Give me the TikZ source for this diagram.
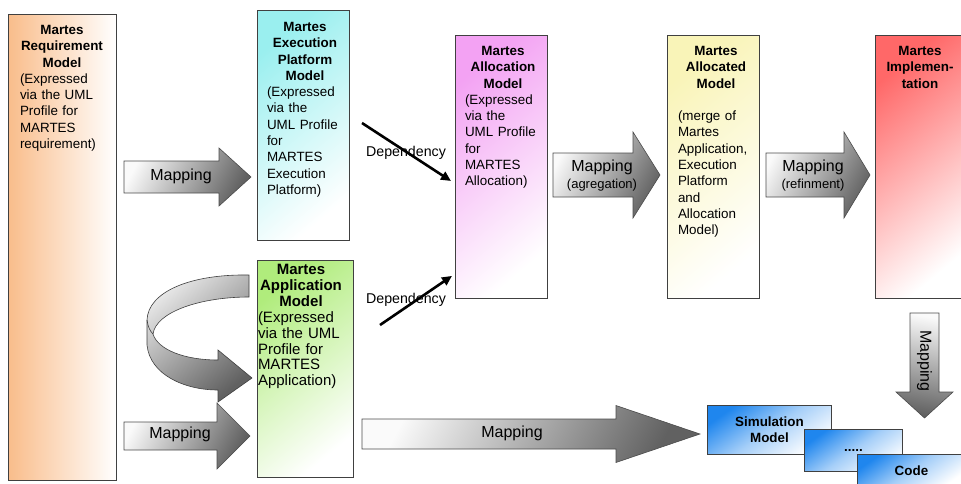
\documentclass[tikz,border=0pt]{standalone}
\usepackage{fontspec}
\setmainfont{Liberation Sans}
\usetikzlibrary{arrows.meta}
\definecolor{reqC}{HTML}{F9BD8B}
\definecolor{exeC}{HTML}{9AEFEF}
\definecolor{allocC}{HTML}{F3A2F3}
\definecolor{alldC}{HTML}{F9F4B8}
\definecolor{implC}{HTML}{FF6868}
\definecolor{appC}{HTML}{B0EC7C}
\definecolor{bluC}{HTML}{1F86EE}
\newcommand\ttl[1]{{\centering\bfseries #1\par}}
\newcommand\bdy[1]{{\raggedright #1\par}}
\newcommand\harr[6]{\path[blockarrow] (#1,#4-#5) -- (#2,#4-#5) -- (#2,#4-#6) -- (#3,#4) -- (#2,#4+#6) -- (#2,#4+#5) -- (#1,#4+#5) -- cycle;}
\begin{document}
\begin{tikzpicture}[x=1pt, y=-1pt,
  mbox/.style={draw=black!75, line width=0.9pt, inner sep=0pt, anchor=north west},
  diag/.style={top color=#1, bottom color=white, shading angle=40},
  btxt/.style={inner sep=0pt, anchor=north, font=\fontsize{13.4}{16.3}\selectfont},
  blockarrow/.style={draw=black!70, line width=0.6pt, top color=gray!4, bottom color=black!62, shading angle=62},
  curvearrow/.style={draw=black!75, line width=0.6pt, top color=gray!18, bottom color=black!62, shading angle=40},
  dep/.style={line width=2.6pt, -{Triangle[length=10pt,width=9pt]}},
  lbl/.style={inner sep=0pt, font=\fontsize{16}{16}\selectfont},
  sublbl/.style={inner sep=0pt, font=\fontsize{13}{13}\selectfont},
  deplbl/.style={inner sep=0pt, font=\fontsize{14.2}{14.2}\selectfont},
  blu/.style={draw=black!75, line width=0.9pt, anchor=north west, inner sep=0pt,
    top color=bluC, bottom color=white, middle color=bluC!40!white, shading angle=35,
    font=\bfseries\fontsize{13.4}{16.3}\selectfont, align=center}]
\useasboundingbox (0,0) rectangle (961,483);

% main model boxes
\node[mbox, minimum width=108pt, minimum height=466pt, left color=reqC, right color=white] (req) at (8,14) {};
\node[mbox, minimum width=92pt, minimum height=230pt, diag=exeC] (exe) at (257,10) {};
\node[mbox, minimum width=92pt, minimum height=263pt, diag=allocC] (alloc) at (455,35) {};
\node[mbox, minimum width=92pt, minimum height=263pt, diag=alldC] (alld) at (667,35) {};
\node[mbox, minimum width=92pt, minimum height=263pt, diag=implC] (impl) at (875,35) {};
\node[mbox, minimum width=96pt, minimum height=217pt, diag=appC] (app) at (257,260) {};

% box texts
\node[btxt, text width=84pt] (reqT) at (62,25)
  {\ttl{Martes\\Requirement\\Model}\bdy{(Expressed\\via the UML\\Profile for\\MARTES\\requirement)}};
\node[btxt, text width=76pt] (exeT) at (305,22)
  {\ttl{Martes\\Execution\\Platform\\Model}\bdy{(Expressed\\via the\\UML Profile\\for\\MARTES\\Execution\\Platform)}};
\node[btxt, text width=76pt] (allocT) at (503,46)
  {\ttl{Martes\\Allocation\\Model}\bdy{(Expressed\\via the\\UML Profile\\for\\MARTES\\Allocation)}};
\node[btxt, text width=76pt] (alldT) at (716,46)
  {\ttl{Martes\\Allocated\\Model}\bdy{\mbox{}\\(merge of\\Martes\\Application,\\Execution\\Platform\\and\\Allocation\\Model)}};
\node[btxt, text width=80pt] (implT) at (920,46)
  {\ttl{Martes\\Implemen-\\tation}};
\node[btxt, text width=86pt, font=\fontsize{15}{15.9}\selectfont] (appT) at (301,264)
  {\ttl{Martes\\Application\\Model}\bdy{(Expressed\\via the UML\\Profile for\\MARTES\\Application)}};

% block arrows
\harr{124}{219}{251}{177}{16}{29}
\node[lbl] (map1) at (181,176) {Mapping};
\harr{124}{217}{250}{436}{14}{33}
\node[lbl] (map2) at (180,434) {Mapping};
\harr{553}{633}{660}{175}{22}{43}
\node[lbl] (map3) at (602,167) {Mapping};
\node[sublbl] (agr) at (602,185.5) {(agregation)};
\harr{766}{844}{870}{175}{22}{43}
\node[lbl] (map4) at (813,167) {Mapping};
\node[sublbl] (ref) at (813,185.5) {(refinment)};
\harr{362}{616}{700}{434}{15}{28.5}
\node[lbl] (map5) at (512,433) {Mapping};
\path[blockarrow, shading angle=-10] (910,313) -- (939,313) -- (939,392) -- (953,392) -- (924.5,418) -- (896,392) -- (910,392) -- cycle;
\node[lbl, rotate=-90] (map6) at (924.5,361) {Mapping};

% curved arrow
\path[curvearrow] (249,275) .. controls (190,274) and (148,292) .. (147,320) -- (147,345)
  .. controls (150,375) and (185,390) .. (218,390) -- (218,402) -- (252,378) -- (218,350) -- (218,360)
  .. controls (185,360) and (158,350) .. (153,334)
  .. controls (156,312) and (200,297) .. (249,297) -- cycle;
\draw[line width=0.6pt, black!75] (147,320) .. controls (148,327) and (150,331) .. (153,334);

% dependency arrows
\coordinate (d1s) at (362,123);
\coordinate (d1e) at ([xshift=-4pt,yshift=-146pt]alloc.north west);
\draw[dep] (d1s) -- (d1e);
\node[deplbl] (dep1) at (406,153) {Dependency};
\coordinate (d2s) at (380,325);
\coordinate (d2e) at ([xshift=-3pt,yshift=23pt]alloc.south west);
\draw[dep] (d2s) -- (d2e);
\node[deplbl] (dep2) at (406,300) {Dependency};

% output boxes
\node[blu, minimum width=124pt, minimum height=49pt] (sim) at (707,405) {Simulation\\Model};
\node[blu, minimum width=98pt, minimum height=42pt] (dots) at (804,429) {.....};
\node[blu, minimum width=108pt, minimum height=32pt] (code) at (857,454) {Code};
\end{tikzpicture}
\end{document}
